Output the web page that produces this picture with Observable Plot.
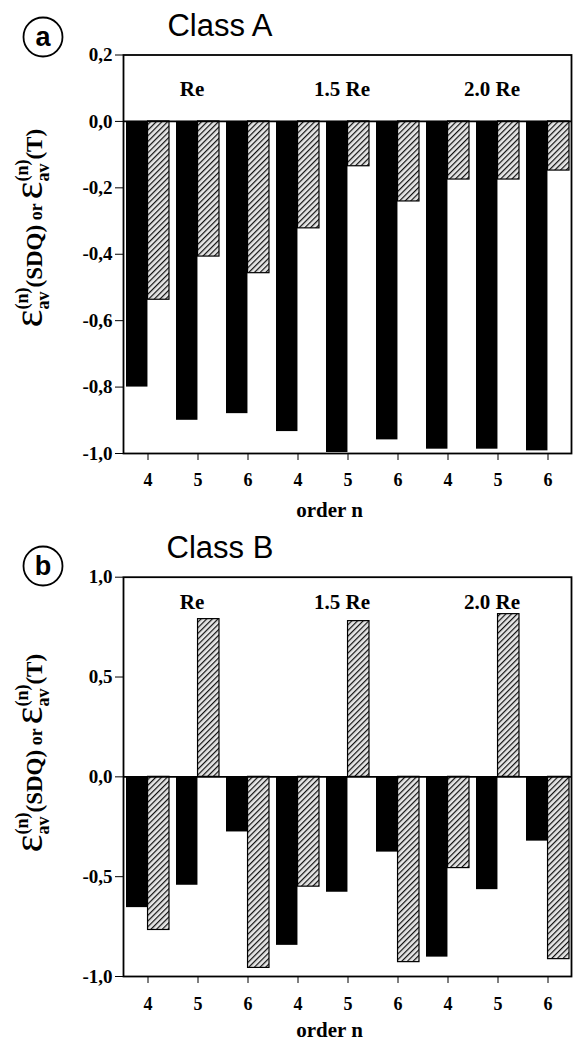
<!DOCTYPE html>
<html><head><meta charset="utf-8">
<script src="https://cdn.jsdelivr.net/npm/d3@7"></script>
<script src="https://cdn.jsdelivr.net/npm/@observablehq/plot@0.6"></script>
<style>body{margin:0;background:#fff;} #chart{width:573px;} svg{display:block;}</style>
</head><body>
<svg width="0" height="0" style="position:absolute"><defs>
<pattern id="hatch" patternUnits="userSpaceOnUse" width="4" height="4" patternTransform="rotate(45)">
<rect width="4" height="4" fill="#e6e6e6"/><line x1="0" y1="0" x2="0" y2="4" stroke="#111" stroke-width="2.4"/>
</pattern></defs></svg>
<div id="chart"></div>
<script>
// ---- data ----
const groups = ["Re", "1.5 Re", "2.0 Re"];
const orders = [4, 5, 6];
const keys = groups.flatMap(g => orders.map(n => g + "|" + n));
const classA_SDQ = [-0.80, -0.90, -0.88, -0.934, -0.997, -0.959, -0.987, -0.987, -0.992];
const classA_T   = [-0.537, -0.407, -0.457, -0.322, -0.135, -0.241, -0.175, -0.175, -0.148];
const classB_SDQ = [-0.655, -0.543, -0.276, -0.844, -0.578, -0.377, -0.903, -0.565, -0.322];
const classB_T   = [-0.767, 0.79, -0.957, -0.55, 0.78, -0.928, -0.457, 0.815, -0.913];
const ticksA = [0.2, 0, -0.2, -0.4, -0.6, -0.8, -1.0];
const ticksB = [1.0, 0.5, 0, -0.5, -1.0];

const fmt = d => (d < -1e-9 ? "-" : "") + Math.abs(d).toFixed(1).replace(".", ",");
const serif = "'Liberation Serif', 'Times New Roman', serif";

function panel({letter, title, sdq, t, yDomain, yTicks, height, marginTop, marginBottom, labelDy, orderDy, tickDy, titleY, circleY}) {
  const rows = keys.map((k, i) => ({key: k, sdq: sdq[i], t: t[i]}));
  const width = 573, left = 123, right = 2;
  const band = d3.scaleBand(keys, [left, width - right]).paddingInner(0.14).paddingOuter(0.04);
  const half = band.bandwidth() / 2;
  const chart = Plot.plot({
    width, height, marginLeft: left, marginRight: right, marginTop, marginBottom,
    style: {fontFamily: serif, fontSize: "18px", fontWeight: "bold", color: "black", background: "white", overflow: "visible"},
    x: {type: "band", domain: keys, paddingInner: 0.14, paddingOuter: 0.04, tickFormat: () => "", tickSize: 7, label: null},
    y: {domain: yDomain, ticks: yTicks, tickFormat: () => "", tickSize: 8, label: null},
    marks: [
      Plot.barY(rows, {x: "key", y: "sdq", fill: "black", insetRight: half}),
      Plot.barY(rows, {x: "key", y: "t", fill: "url(#hatch)", stroke: "black", strokeWidth: 1.2, insetLeft: half}),
      Plot.ruleY([0], {strokeWidth: 1.8}),
      Plot.frame({strokeWidth: 1.8}),
      // tick labels drawn through the scales
      Plot.text(yTicks, {y: d => d, text: fmt, frameAnchor: "left", dx: -11, textAnchor: "end", lineAnchor: "middle", fontSize: 19, fontWeight: "bold", fontFamily: serif}),
      Plot.text(keys, {x: d => d, text: k => k.split("|")[1], frameAnchor: "bottom", dy: tickDy, lineAnchor: "middle", fontSize: 18, fontWeight: "bold", fontFamily: serif}),
      Plot.text(groups, {x: g => g + "|5", text: d => d, frameAnchor: "top", dy: labelDy, dx: -6, fontSize: 21, lineAnchor: "middle"}),
      Plot.text(["order n"], {text: d => d, frameAnchor: "bottom", dy: orderDy, dx: -18, fontSize: 21, lineAnchor: "middle"})
    ]
  });
  const svg = d3.select(chart);
  svg.append("circle").attr("cx", 43).attr("cy", circleY).attr("r", 19.5)
    .attr("fill", "none").attr("stroke", "black").attr("stroke-width", 1.8);
  svg.append("text").attr("x", 43).attr("y", circleY + 9).attr("text-anchor", "middle")
    .attr("font-family", "'Liberation Sans', sans-serif").attr("font-size", 27).attr("font-weight", "bold").text(letter);
  svg.append("text").attr("x", 220).attr("y", titleY).attr("text-anchor", "middle")
    .attr("font-family", "'Liberation Sans', sans-serif").attr("font-size", 31).attr("font-weight", "normal").text(title);
  const yl = svg.append("text").attr("transform", "translate(42,228) rotate(-90)").attr("text-anchor", "middle")
    .attr("font-family", serif).attr("font-weight", "bold").attr("font-size", 23);
  const part = sfx => {
    yl.append("tspan").attr("font-size", 42).attr("font-weight", "normal").text("ε");
    yl.append("tspan").attr("font-size", 18).attr("dy", 7).text("av");
    yl.append("tspan").attr("font-size", 18).attr("dx", -18).attr("dy", -21).text("(n)");
    yl.append("tspan").attr("dy", 14).text(sfx);
  };
  part("(SDQ)");
  yl.append("tspan").attr("font-size", 18).text(" or ");
  part("(T)");
  return chart;
}

const root = document.getElementById("chart");
root.appendChild(panel({letter: "a", title: "Class A", sdq: classA_SDQ, t: classA_T, yDomain: [-1, 0.2], yTicks: ticksA,
  height: 525, marginTop: 54.5, marginBottom: 72, labelDy: 34, orderDy: 57, tickDy: 27, titleY: 36, circleY: 37}));
root.appendChild(panel({letter: "b", title: "Class B", sdq: classB_SDQ, t: classB_T, yDomain: [-1, 1], yTicks: ticksB,
  height: 518, marginTop: 51.7, marginBottom: 67, labelDy: 25, orderDy: 54, tickDy: 28, titleY: 33, circleY: 41}));
</script>
</body></html>
